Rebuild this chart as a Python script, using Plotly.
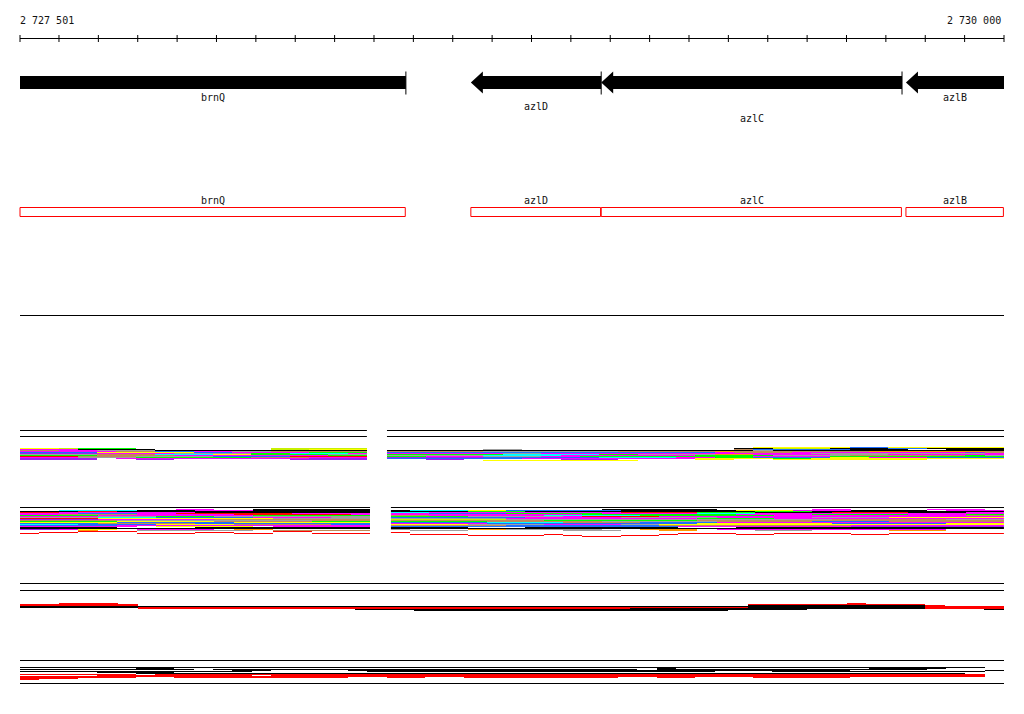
import numpy as np
import plotly.graph_objects as go

# ---------------- data ----------------
VIEW_START = 2727501
VIEW_END = 2730000
TICK_STEP = 100
TICK_LABELS = ["2 727 501", "2 730 000"]

GENE_NAMES = ["brnQ", "azlD", "azlC", "azlB"]
GENE_START = [2727150, 2728646, 2728977, 2729751]
GENE_END = [2728481, 2728977, 2729741, 2730900]
GENE_STRAND = ["-", "-", "-", "-"]

# read-pileup colour codes
READ_COLORS = {
    "k": "#000000", "r": "#ff0000", "g": "#00ff00", "b": "#1e6eff",
    "c": "#00ffff", "m": "#ff00ff", "y": "#ffff00", "o": "#c8f000",
    "a": "#a0a0a0", "n": "#c08a5a", "p": "#a020f0", "e": "#ff9900",
    "w": "#ffffff",
}

# sample 1 pileup (left block | right block)
A_SECTIONS = [(2727501, 2728382), (2728433, 2730000)]
A_ROWS = [
    ("..................", "...................yyyyybbyyyyyy"),
    ("yyoggg.......ooooo", "..................kkoookkkbbkkkk"),
    ("mmmkkkk......ooyyy", ".....aa...........nbbbbbkkkwwkkk"),
    ("nnmmaaakkkkkkkkkkk", "kkkkkkkkkkkkkkkkkkkakkkkkkkkkkkk"),
    ("mmmmmnnbbmmaannnnn", "nnnnnaaaaaaannnnnennnnnnneeeeeen"),
    ("bbbbyyyyybbmmmmggg", "bbbbbbbbbbbbbbbbbmnnnmmmmmmmmmpn"),
    ("ppppmmmmaaaaggcccm", "mmmmmmaammmmmmmmmmmmmmaaaaaaaaam"),
    ("aaaannncccyyggggaa", "ggggggcccccggaaaaeemmmmaaammmmmm"),
    ("ggggnnnnmmmmmmmmgg", "aaaaaccccmmmmmmmggggaaaannnnnnga"),
    ("rrrnnnaaaabbbbrrrr", "ggmmmaaammgggggggggmmmmggggggggg"),
    ("mmmaaaggggggnnnmmm", "pppppbbbbbbccccmmggbbbbyymmmbbbb"),
    ("pppp.mmmmmmmmmmppp", "bbbbbbbmmmmmmmmmyyyyggyyyyyyyyyy"),
    ("pppp..pp......pppp", "..pp.....ppp....yy..yyyyyyyy...."),
    ("..................", ".....yyyyyyyy..................."),
]

# sample 2 pileup
B_SECTIONS = [(2727501, 2728390), (2728443, 2730000)]
B_ROWS = [
    ("........mm..kkkkkk", "...........kkkkkk.....mm....mmm."),
    ("..cccckkkmmmkkkkkk", "kcccyybbbbbbkkkkkkyyymmmkkkk.mmm"),
    ("kkkrrkkkkkkkkkkkkk", "kkkkgggkkkkkkkkkkkkgggkkkkkkkkkk"),
    ("rrmmmmmmmkkkkkkkkk", "ccmmmmmmmmmmrrrrgggkkkkrrrrkkkmm"),
    ("mmmbbbmmrrrrrrmmmm", "mmbbbbgggggmmmmmcccmmmmmmmmmmmmm"),
    ("mmnnnnmmmmmrrrrrrm", "mmmmmmmmmmggggggggmmmmgggggmmmgg"),
    ("ggggmmmmmmmmgggggg", "nnmmmmmmcccccgggggggmmmmmmmmmmnn"),
    ("mmmmaaagggaaaaaaaa", "ggggaaaaamrrrrmmmmmmmmmmmmmmmmmm"),
    ("aaaacccbbbbbmmmmaa", "bbbbbbbmmmmmaaaaammmmmaaaayyyyyy"),
    ("rrrryyyyyyyyyaaaaa", "aaaaaammmmmmmmmmggggmmmmmmmmmmmm"),
    ("ppppmmmmmmnnnnnnnn", "ooooooaaaaaaaaaaaaaaaaannnnnnaaa"),
    ("nnnnnaaaaaaaaaannn", "nnnnnnnnggggggggnnnnnnnnnnnnnnnn"),
    ("gggggyyyyynnnnnggg", "gggggnnnnnnaaaaaannnnnbbbbnnnnnn"),
    ("yyyyybbbbbbyyyyyyy", "bbbbbccccnnnnbbbbmmmmmmmmmmmmmmm"),
    ("bbbbnnnnnbbbbbbbbb", "mmmmmbbbbbbbbbbbyyyyyyybbbbbbyyy"),
    ("cccbbbbyyyynnnnnbb", "yyyyaaaammmmaayyyyyyyyyyyyyyyyyy"),
    ("bbbbbmmmmmmmmmmmmm", "nnnnnnbbbbbbbbnnnnnnnnnnmmmmmmmm"),
    ("mmmmmm.yyyyy.mmmmm", "bbbbbbbbbbbbbbbmmmmmmmmmpppppppp"),
    ("kkkkk.w..kkkkkkkkk", "kkkk...kkkkkkkk...kkkkkkkkkkkkkk"),
    ("kkkkkkkkkkkkkkkkkk", "kkkkkkkkkkkkkkkkkkkkkkkkkkkkkkkk"),
    ("ppmyy.mmmm.ee.....", "a...eeaaaaa..eee.mmmmmmmmmmmm..."),
    ("...e..aaaaaa.nnnnn", ".aaa.....aaa..ee...aaa....eee..."),
    ("...rrr.......rr...", "................................"),
    (".rr......rr.......", "r..............................."),
    ("r.....rrr..rr..rrr", "...............rrr..rrrr..rrrrrr"),
    ("..................", ".rrr....r.....r...rr....rr......"),
    ("..................", "....rrrr.r..rr.................."),
    ("..................", "..........rr...................."),
]

# sample 3 pileup (strand view)
C_SECTIONS = [(2727501, 2730000)]
C_ROWS = [
    ("..rrr.....................................r.......",),
    ("rrrrrr...............................rrrrrrrrr....",),
    ("rrrrrr...............................kkkkkkkkkr...",),
    ("kkkkkkkkkkkkkkkkkkkkkkkkkkkkkkkkkkkkkkkkkkkkkkrrrr",),
    ("kkkkkkrrrrrrrrrrrrrrrrrrrrrrrrrrrrrrrkkkkkkkkkrrrr",),
    ("......rrrrrrrrrrrrrrrrrrrrrrrrrkkkkkkkkkkkkkkkrrrr",),
    (".................kkkkkkkkkkkkkkkkkkkkkkk.........k",),
    ("....................kkkkkkkkkkkkkkkk..............",),
]

# sample 4 pileup (strand view)
D_SECTIONS = [(2727501, 2730000)]
D_ROWS = [
    ("kkkkkkkkkkkkkkkkkkkkkkkkkkkkkkkkkkkkkkkkkkkkkkkkkk",),
    ("......kk.........................k..........kkkk..",),
    ("kkkkkkkkk.kkkkkkkkkkkkkkkkkkkkkk.kkkkkkkkkkkkkk...",),
    ("...........kk....kkkkkkkkkkkkkkkkkkkkkkkkkk.......k",),
    ("kkkkkkkkkkkk......kkkkkkkkkkkkkkkkkk...kkkkkkkkkkk",),
    ("....kkkk..........................................",),
    ("......kkkkkkkkkkkkkkkkkkkkkkkkkkkkkkkkkkkkkkkkkkk.",),
    ("rrrrrr.rrrrrrrrrrrrrrrrrrrrrrrrrrrrrrrrrrrrrrrrrrr",),
    ("....rrrrrrrr.rrrrrrrrrrrrrrrrrrrrrrrrrrrrrrrrrrrrr",),
    ("rrrrrrrrrrrrrrrrrrrrrrrrrrrrrrrrrrrrrrrrrrrrrrrrrr",),
    ("rrrrrr..rrrrrrrrr..rr..rrrrrrrr..rr...rrrrr.......",),
    ("rrr...............................................",),
    ("r.................................................",),
]

# ---------------- layout helpers ----------------
W, H = 1024, 714
PAD = 20
BPPX = (VIEW_END - VIEW_START) / (W - 2 * PAD)
X0 = VIEW_START - PAD * BPPX
X1 = VIEW_END + PAD * BPPX
FONT = dict(family="DejaVu Sans Mono, monospace", size=10, color="#111111")


def clip(v):
    return min(max(v, VIEW_START), VIEW_END)


fig = go.Figure()
shapes = []
annotations = []


def hline(y, x0, x1, color="black"):
    shapes.append(dict(type="line", xref="x", yref="y", x0=x0, x1=x1, y0=y, y1=y,
                       line=dict(color=color, width=1)))


# ---- ruler ----
hline(38.5, VIEW_START, VIEW_END)
tick_xs = list(range(VIEW_START - VIEW_START % TICK_STEP, VIEW_END + 1, TICK_STEP))
tx, ty = [], []
for t in tick_xs:
    tx += [clip(t), clip(t), None]
    ty += [35, 42, None]
fig.add_trace(go.Scatter(x=tx, y=ty, mode="lines", line=dict(color="black", width=1),
                         hoverinfo="skip", showlegend=False))
annotations.append(dict(x=VIEW_START - 2 * BPPX, y=20, text=TICK_LABELS[0], xanchor="left", yanchor="middle"))
annotations.append(dict(x=VIEW_END - 1 * BPPX, y=20, text=TICK_LABELS[1], xanchor="right", yanchor="middle"))

# ---- gene arrows ----
BAR_C = 82.5
BAR_HALF = 6.5
HEAD_HALF = 11
HEAD_LEN = 12 * BPPX
LABEL_Y1 = {"brnQ": 97.5, "azlD": 106, "azlC": 118, "azlB": 97.5}
for name, s, e, strand in zip(GENE_NAMES, GENE_START, GENE_END, GENE_STRAND):
    if strand == "-":
        tip, base = s, s + HEAD_LEN
        px = [tip, base, base, e, e, base, base, tip]
    else:
        tip, base = e, e - HEAD_LEN
        px = [tip, base, base, s, s, base, base, tip]
    py = [BAR_C, BAR_C - HEAD_HALF, BAR_C - BAR_HALF, BAR_C - BAR_HALF,
          BAR_C + BAR_HALF, BAR_C + BAR_HALF, BAR_C + HEAD_HALF, BAR_C]
    px = [clip(v) for v in px]
    fig.add_trace(go.Scatter(x=px, y=py, mode="lines", fill="toself", fillcolor="black",
                             line=dict(width=0, color="black"), hoverinfo="skip", showlegend=False))
    gstart = e if strand == "-" else s
    if VIEW_START < gstart < VIEW_END:
        fig.add_trace(go.Scatter(x=[gstart, gstart], y=[71.5, 94.5], mode="lines",
                                 line=dict(color="black", width=1), hoverinfo="skip", showlegend=False))
    cx = (clip(s) + clip(e)) / 2
    annotations.append(dict(x=cx, y=LABEL_Y1[name], text=name, xanchor="center", yanchor="middle"))

    # ---- red outline track ----
    bx0, bx1 = clip(s), clip(e) - 0.6 * BPPX
    fig.add_trace(go.Scatter(x=[bx0, bx1, bx1, bx0, bx0], y=[207.5, 207.5, 216.5, 216.5, 207.5],
                             mode="lines", line=dict(color="#ff0000", width=1),
                             hoverinfo="skip", showlegend=False))
    annotations.append(dict(x=cx, y=200, text=name, xanchor="center", yanchor="middle"))

hline(315.5, VIEW_START, VIEW_END)

# ---- pileups as categorical heatmaps ----
CODES = list(READ_COLORS.keys())
K = len(CODES)
CSCALE = []
for i, ch in enumerate(CODES):
    CSCALE += [[i / K, READ_COLORS[ch]], [(i + 1) / K, READ_COLORS[ch]]]


def add_pileup(y_top, sections, rows):
    for si, (a, b) in enumerate(sections):
        strs = [r[si] for r in rows]
        ncol = max(len(s) for s in strs)
        xedges = np.linspace(a, b, ncol + 1)
        yedges = np.arange(y_top, y_top + len(strs) + 1)
        z = [[(CODES.index(ch) + 0.5) if ch in READ_COLORS else None for ch in s.ljust(ncol, ".")]
             for s in strs]
        fig.add_trace(go.Heatmap(x=xedges, y=yedges, z=z, colorscale=CSCALE, zmin=0, zmax=K,
                                 showscale=False, hoverinfo="skip", zsmooth=False))


for a, b in A_SECTIONS:
    hline(430.5, a, b)
    hline(436.5, a, b)
add_pileup(447, A_SECTIONS, A_ROWS)

for a, b in B_SECTIONS:
    hline(507.5, a, b)
add_pileup(509, B_SECTIONS, B_ROWS)

hline(583.5, VIEW_START, VIEW_END)
hline(590.5, VIEW_START, VIEW_END)
add_pileup(603, C_SECTIONS, C_ROWS)

hline(660.5, VIEW_START, VIEW_END)
add_pileup(667, D_SECTIONS, D_ROWS)
hline(683.5, VIEW_START, VIEW_END)

for an in annotations:
    an.update(xref="x", yref="y", showarrow=False, font=FONT)

fig.update_layout(
    width=W, height=H, autosize=False,
    margin=dict(l=0, r=0, t=0, b=0, pad=0),
    paper_bgcolor="white", plot_bgcolor="white",
    xaxis=dict(range=[X0, X1], visible=False, showgrid=False, zeroline=False, fixedrange=True),
    yaxis=dict(range=[H, 0], visible=False, showgrid=False, zeroline=False, fixedrange=True),
    shapes=shapes, annotations=annotations, showlegend=False,
)

fig.write_html("out.html", config={"displayModeBar": False},
               post_script="document.body.style.margin='0';")
